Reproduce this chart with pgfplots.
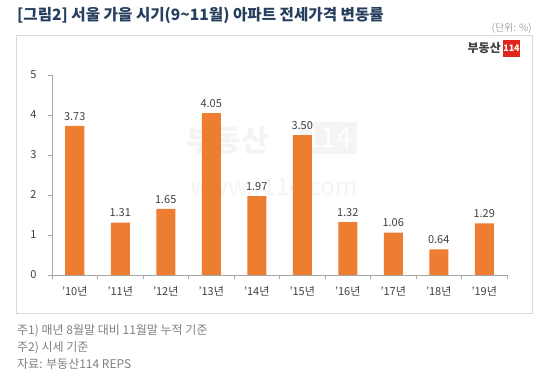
\documentclass[border=0pt]{standalone}
\usepackage{fontspec}
\setmainfont{Noto Sans CJK KR}
\usepackage{pgfplots}
\pgfplotsset{compat=1.18}
\definecolor{barorange}{HTML}{ED7D31}
\definecolor{titleblue}{HTML}{263F5E}
\definecolor{txtgray}{HTML}{404040}
\definecolor{notegray}{HTML}{7F7F7F}
\definecolor{axgray}{HTML}{A6A6A6}
\definecolor{logored}{HTML}{E0261C}
\begin{document}
\begin{tikzpicture}[x=1pt,y=1pt]
\path[use as bounding box] (0,0) rectangle (550,370);
\coordinate (AO) at (74.75,95);
% title
\node[anchor=base west,inner sep=0pt,text=titleblue,font=\fontsize{15.6}{17}\selectfont\bfseries] at (17,370-21) {[그림2] 서울 가을 시기(9\textasciitilde 11월) 아파트 전세가격 변동률};
\node[anchor=base east,inner sep=0pt,text=notegray!70,font=\fontsize{10}{12}\selectfont] at (532,370-32) {(단위: \%)};
% frame
\draw[gray!30,line width=0.8pt] (16,370-313) rectangle (532,370-35);
% logo
\node[anchor=base east,inner sep=0pt,text=txtgray,font=\fontsize{12}{14}\selectfont\bfseries] at (501,370-53) {부동산};
\fill[logored] (503,370-57) rectangle (520,370-40);
\node[anchor=center,inner sep=0pt,text=white,font=\fontsize{9}{10}\selectfont\bfseries] at (511.5,370-48.5) {114};
% watermark
\node[anchor=base west,inner sep=0pt,text=gray!9,font=\fontsize{30}{32}\selectfont\bfseries] at (186,370-152) {부동산};
\fill[gray!9] (300,370-154) rectangle (357,370-122);
\node[anchor=center,inner sep=0pt,text=white,font=\fontsize{28}{30}\selectfont] at (328.5,370-138) {114};
\node[anchor=base west,inner sep=0pt,text=gray!9,font=\fontsize{24}{26}\selectfont] at (190,370-196) {www.r114.com};
\begin{axis}[
  at={(AO)}, anchor=origin,
  scale only axis, width=455pt, height=200pt,
  xmin=-0.5, xmax=9.5, ymin=0, ymax=5,
  axis lines*=left,
  axis line style={axgray, line width=0.8pt},
  ybar, bar width=19pt,
  ytick={0,1,2,3,4,5},
  xtick={0,...,9},
  xticklabels={'10년,'11년,'12년,'13년,'14년,'15년,'16년,'17년,'18년,'19년},
  major x tick style={draw=none},
  minor xtick={-0.5,0.5,...,9.5},
  minor x tick style={axgray, line width=0.8pt},
  ytick style={axgray, line width=0.8pt},
  tick align=outside,
  major tick length=4pt, minor tick length=4pt,
  tick label style={text=txtgray, font=\fontsize{11}{13}\selectfont},
  /pgf/number format/assume math mode=true,
  yticklabel style={xshift=-8pt},
  xticklabel style={yshift=-4pt},
  nodes near coords,
  nodes near coords style={text=txtgray, font=\fontsize{11}{13}\selectfont,
    /pgf/number format/fixed, /pgf/number format/fixed zerofill,
    /pgf/number format/precision=2, /pgf/number format/assume math mode=true, yshift=2pt},
  clip=false,
]
\addplot[fill=barorange, draw=none] coordinates {
(0,3.73) (1,1.31) (2,1.65) (3,4.05) (4,1.97) (5,3.50) (6,1.32) (7,1.06) (8,0.64) (9,1.29)};
\end{axis}
% notes
\node[anchor=base west,inner sep=0pt,text=notegray,font=\fontsize{12}{14}\selectfont] at (17,370-335) {주1) 매년 8월말 대비 11월말 누적 기준};
\node[anchor=base west,inner sep=0pt,text=notegray,font=\fontsize{12}{14}\selectfont] at (17,370-352) {주2) 시세 기준};
\node[anchor=base west,inner sep=0pt,text=notegray,font=\fontsize{12}{14}\selectfont] at (17,370-369) {자료: 부동산114 REPS};
\end{tikzpicture}
\end{document}
